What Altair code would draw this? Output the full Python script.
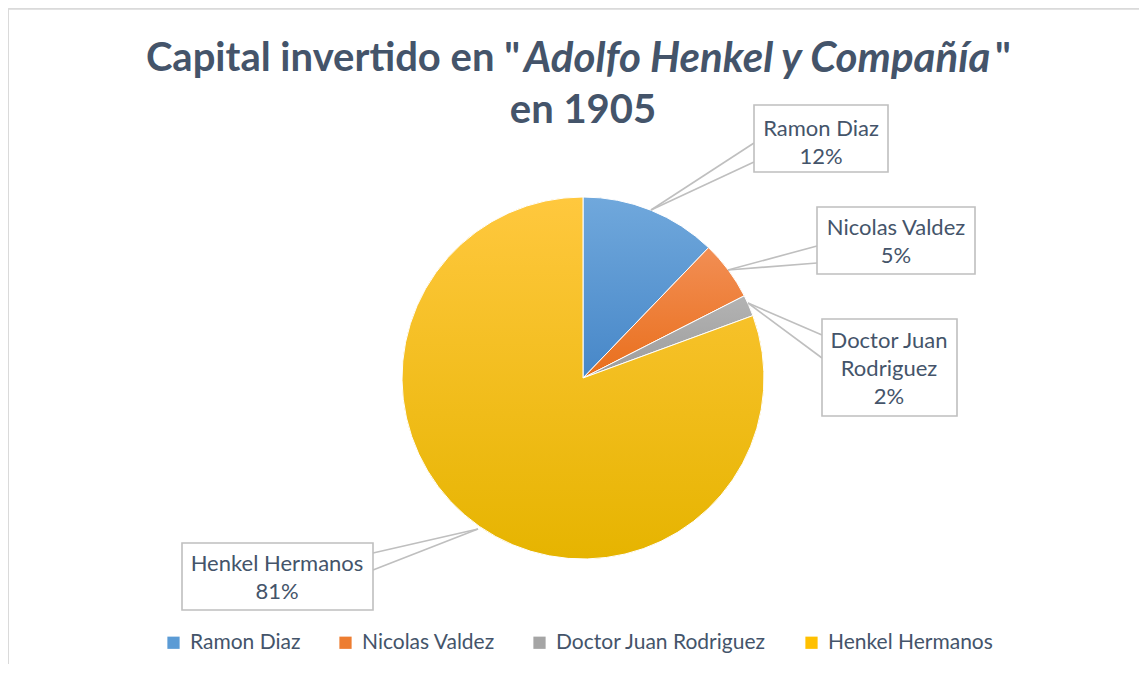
import math
import altair as alt
import pandas as pd

# ---- data ----
names = ["Ramon Diaz", "Nicolas Valdez", "Doctor Juan Rodriguez", "Henkel Hermanos"]
values = [12.2, 5.3, 1.9, 80.6]
pct_labels = ["12%", "5%", "2%", "81%"]
label_texts = ["Ramon Diaz", "Nicolas Valdez", "Doctor Juan\nRodriguez", "Henkel Hermanos"]

# ---- styles ----
solid_colors = ["#5B9BD5", "#ED7D31", "#A5A5A5", "#FFC000"]
grad_top = ["#70A8DC", "#F28E54", "#B3B3B3", "#FFC83E"]
grad_bottom = ["#4787C8", "#E96F1C", "#9C9C9C", "#E6B400"]
TXT = "#44546A"
FONT = "Lato"

W, H = 1131, 656
CX, CY, R = 575, 370, 181  # pie centre / radius (plot coords)

# callout layout (plot coords): box x1,y1,x2,y2 ; anchor on pie ; two wedge ends ; text centre
layout = [
    dict(bx1=746, by1=97, bx2=880, by2=164, px=643, py=202, ex=746, ey1=135, ey2=154, tx=813, ty=121),
    dict(bx1=809, by1=199, bx2=967, by2=266, px=720, py=262, ex=809, ey1=238, ey2=255, tx=888, ty=220),
    dict(bx1=814, by1=311, bx2=949, by2=408, px=740, py=295, ex=814, ey1=327, ey2=350, tx=881, ty=333),
    dict(bx1=174, by1=535, bx2=365, by2=602, px=470, py=521, ex=365, ey1=545, ey2=562, tx=269, ty=556),
]

df = pd.DataFrame({"name": names, "value": values, "order": list(range(len(names)))})

ann = pd.DataFrame(layout)
ann["name"] = names
ann["label"] = [f"{t}\n{p}" for t, p in zip(label_texts, pct_labels)]

theta_scale = alt.Scale(domain=[0, 1], range=[0, 2 * math.pi])

base = (
    alt.Chart(df)
    .transform_joinaggregate(total="sum(value)")
    .transform_window(cum="sum(value)", sort=[alt.SortField("order")], frame=[None, 0])
    .transform_calculate(
        start="(datum.cum - datum.value) / datum.total",
        end="datum.cum / datum.total",
    )
)

arc_enc = dict(
    theta=alt.Theta("start:Q", scale=theta_scale),
    theta2="end:Q",
    x=alt.value(CX),
    y=alt.value(CY),
)

pie_solid = base.mark_arc(outerRadius=R, stroke="white", strokeWidth=1).encode(
    color=alt.Color(
        "name:N",
        scale=alt.Scale(domain=names, range=solid_colors),
        sort=names,
        legend=alt.Legend(
            title=None,
            orient="none",
            legendX=155,
            legendY=624,
            direction="horizontal",
            columns=4,
            symbolType="square",
            symbolSize=150,
            symbolStrokeWidth=0,
            labelFont=FONT,
            labelFontSize=21,
            labelColor=TXT,
            labelOffset=6,
            labelLimit=0,
            columnPadding=34,
        ),
    ),
    order=alt.Order("order:Q"),
    **arc_enc,
)

grad_layers = []
for n, t, b in zip(names, grad_top, grad_bottom):
    grad_layers.append(
        base.transform_filter(alt.datum.name == n)
        .mark_arc(
            outerRadius=R,
            stroke="white",
            strokeWidth=1,
            color=alt.Gradient(
                gradient="linear",
                stops=[alt.GradientStop(color=t, offset=0), alt.GradientStop(color=b, offset=1)],
                x1=0, x2=0, y1=0, y2=1,
            ),
        )
        .encode(**arc_enc)
    )

annc = alt.Chart(ann)
wedge1 = annc.mark_rule(color="#BFBFBF", strokeWidth=1.6).encode(
    x=alt.X("px:Q", scale=None), y=alt.Y("py:Q", scale=None),
    x2="ex:Q", y2="ey1:Q",
)
wedge2 = annc.mark_rule(color="#BFBFBF", strokeWidth=1.6).encode(
    x=alt.X("px:Q", scale=None), y=alt.Y("py:Q", scale=None),
    x2="ex:Q", y2="ey2:Q",
)
boxes = annc.mark_rect(fill="white", stroke="#BFBFBF", strokeWidth=1.6).encode(
    x=alt.X("bx1:Q", scale=None), y=alt.Y("by1:Q", scale=None),
    x2="bx2:Q", y2="by2:Q",
)
labels = annc.mark_text(
    font=FONT, fontSize=22, color=TXT, lineHeight=28, baseline="middle", align="center",
    lineBreak="\n",
).encode(
    x=alt.X("tx:Q", scale=None), y=alt.Y("ty:Q", scale=None), text="label:N",
)

# border of the chart area
border = alt.Chart(pd.DataFrame({"a": [0]})).mark_rect(
    fill=None, stroke="#D9D9D9", strokeWidth=1.5
).encode(x=alt.value(0), y=alt.value(1), x2=alt.value(W + 20), y2=alt.value(H + 20))

# title made of text pieces (regular + italic)
tdf = pd.DataFrame({"a": [0]})
title_a = alt.Chart(tdf).mark_text(
    text='Capital invertido en "', font=FONT, fontSize=40, fontWeight="bold",
    color=TXT, align="right", baseline="middle",
).encode(x=alt.value(512), y=alt.value(51))
title_b = alt.Chart(tdf).mark_text(
    text="Adolfo Henkel y Compañía", font=FONT, fontSize=42, fontWeight="bold",
    fontStyle="italic", color=TXT, align="left", baseline="middle",
).encode(x=alt.value(516), y=alt.value(51))
title_c = alt.Chart(tdf).mark_text(
    text='"', font=FONT, fontSize=40, fontWeight="bold",
    color=TXT, align="left", baseline="middle",
).encode(x=alt.value(987), y=alt.value(51))
title_d = alt.Chart(tdf).mark_text(
    text="en 1905", font=FONT, fontSize=40, fontWeight="bold",
    color=TXT, align="center", baseline="middle",
).encode(x=alt.value(575), y=alt.value(103))

chart = (
    alt.layer(
        border, pie_solid, *grad_layers, wedge1, wedge2, boxes, labels,
        title_a, title_b, title_c, title_d,
    )
    .properties(width=W, height=H, padding=0, autosize=alt.AutoSizeParams(type="none"))
    .configure_view(stroke=None)
    .configure(background="white")
)

chart.save("out.html", embed_options={"renderer": "svg", "actions": False})
